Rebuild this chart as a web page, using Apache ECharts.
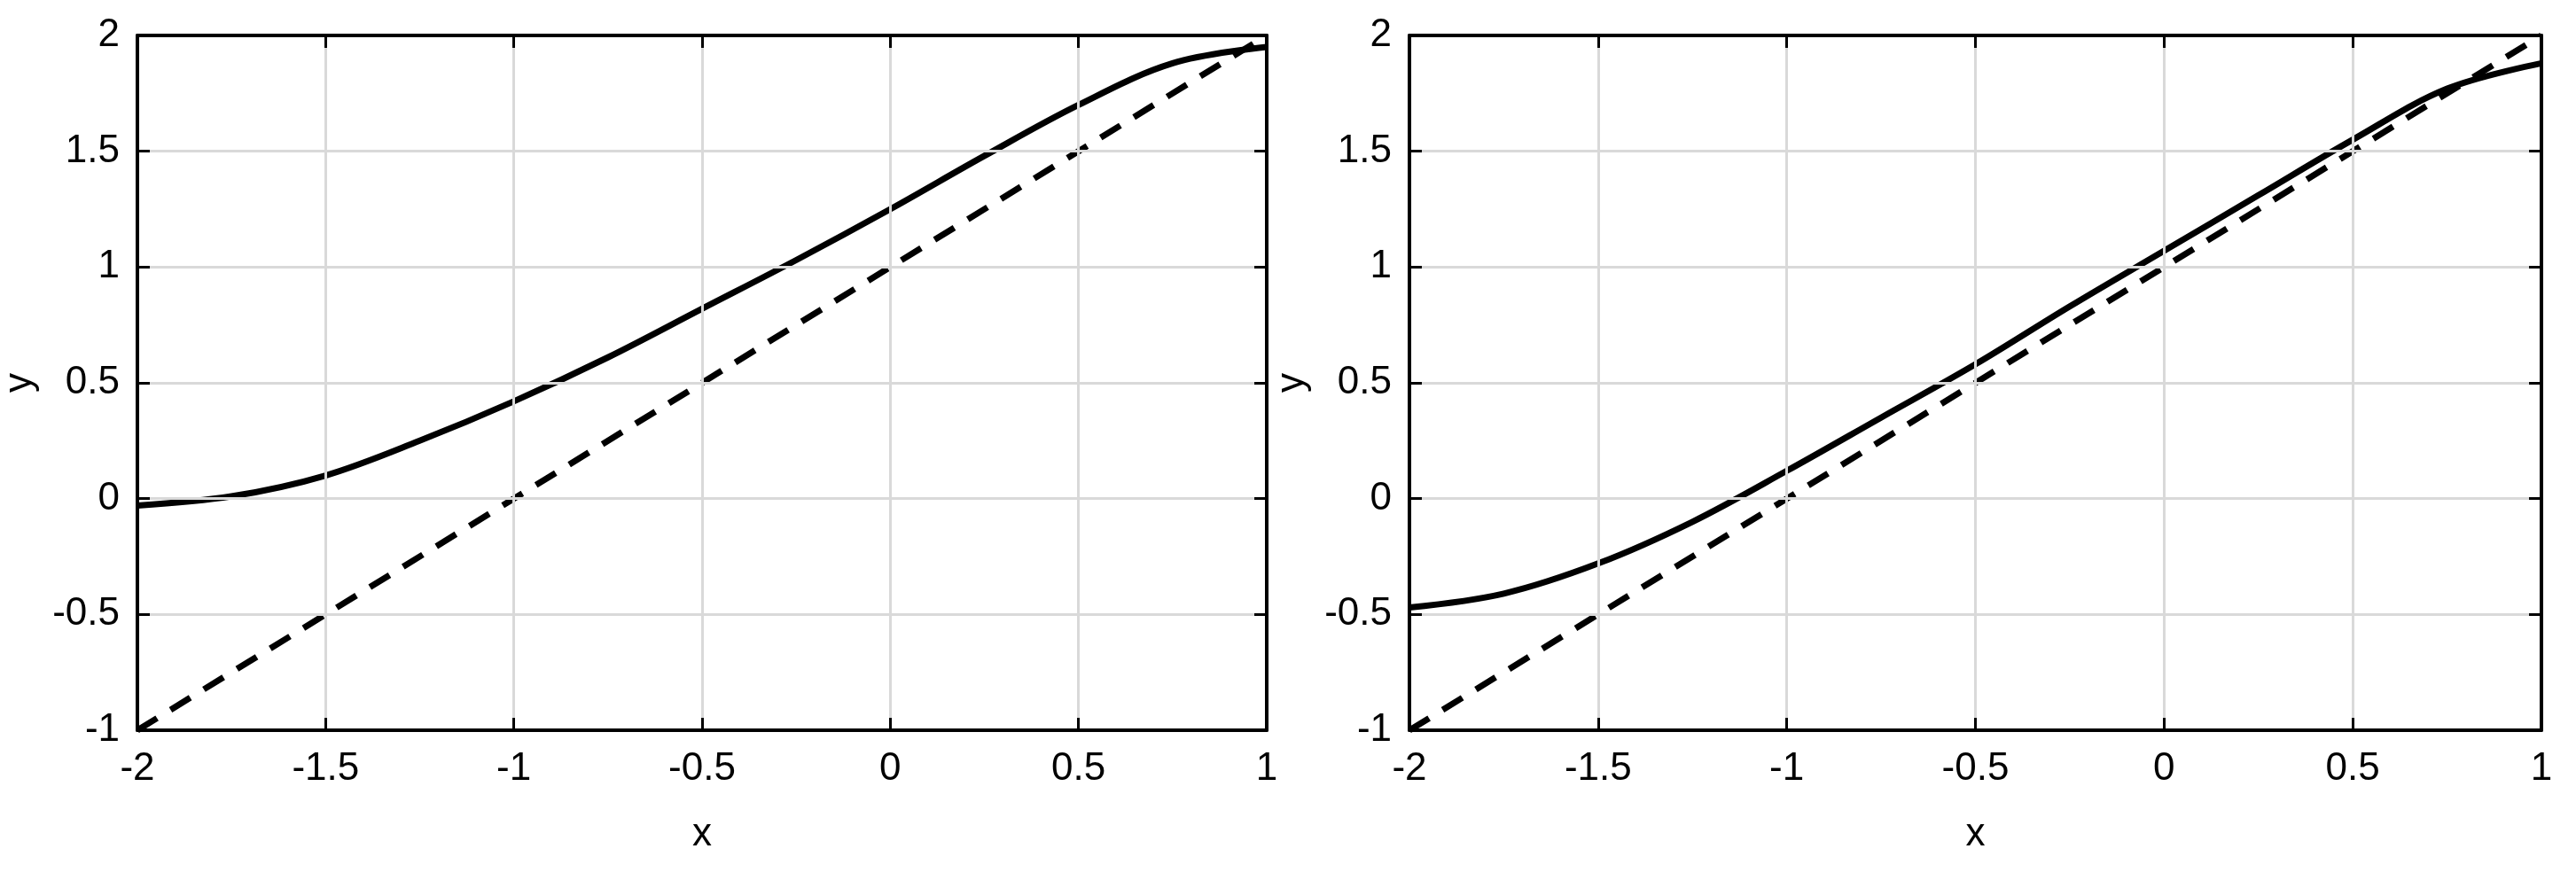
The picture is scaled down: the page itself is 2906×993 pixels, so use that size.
<!DOCTYPE html>
<html><head><meta charset="utf-8">
<script src="https://cdn.jsdelivr.net/npm/echarts@6/dist/echarts.min.js"></script>
<style>html,body{margin:0;padding:0;background:#fff}#c{width:2906px;height:993px}</style>
</head><body><div id="c"></div>
<script>
const xs = [-2,-1.75,-1.5,-1.25,-1,-0.75,-0.5,-0.25,0,0.25,0.5,0.75,1];
const leftCurve = [-0.03,0.01,0.10,0.25,0.42,0.61,0.82,1.03,1.25,1.48,1.70,1.88,1.95];
const rightCurve = [-0.47,-0.41,-0.28,-0.10,0.12,0.35,0.58,0.83,1.07,1.31,1.55,1.77,1.88];
const lineX = [-2,1];
const lineY = [-1,2];
const font = 'Liberation Sans';
const chart = echarts.init(document.getElementById('c'));
const tick = {inside:true,length:14,lineStyle:{color:'#000',width:3}};
const line = {onZero:false,lineStyle:{color:'#000',width:4}};
function xAxis(i){return {gridIndex:i,type:'value',min:-2,max:1,interval:0.5,name:'x',nameLocation:'middle',nameGap:96,
 nameTextStyle:{fontFamily:font,fontSize:44,color:'#000'},
 axisLine:line,axisTick:tick,z:5,
 axisLabel:{fontFamily:font,fontSize:44,color:'#000',margin:22},splitLine:{show:true,lineStyle:{color:'#d9d9d9',width:3}}};}
function xTop(i){return {gridIndex:i,type:'value',min:-2,max:1,interval:0.5,position:'top',axisLine:line,axisTick:tick,axisLabel:{show:false},splitLine:{show:false},z:5};}
function yAxis(i){return {gridIndex:i,type:'value',min:-1,max:2,interval:0.5,name:'y',nameLocation:'middle',nameGap:110,
 nameTextStyle:{fontFamily:font,fontSize:44,color:'#000'},
 axisLine:line,axisTick:tick,z:5,
 axisLabel:{fontFamily:font,fontSize:44,color:'#000',margin:20},splitLine:{show:true,lineStyle:{color:'#d9d9d9',width:3}}};}
function yRight(i){return {gridIndex:i,type:'value',min:-1,max:2,interval:0.5,position:'right',axisLine:line,axisTick:tick,axisLabel:{show:false},splitLine:{show:false},z:5};}
const solid = (d,i)=>({type:'line',xAxisIndex:i,yAxisIndex:i,smooth:0.35,symbol:'none',data:xs.map((x,k)=>[x,d[k]]),lineStyle:{color:'#000',width:7},z:3});
const dashed = i=>({type:'line',xAxisIndex:i,yAxisIndex:i,symbol:'none',data:lineX.map((x,k)=>[x,lineY[k]]),lineStyle:{color:'#000',width:7,type:[26,18]},z:4});
chart.setOption({
 animation:false,
 grid:[{left:152,top:40,width:1277,height:784},{left:1590,top:40,width:1277,height:784}],
 xAxis:[xAxis(0),xAxis(1),xTop(0),xTop(1)],
 yAxis:[yAxis(0),yAxis(1),yRight(0),yRight(1)],
 series:[solid(leftCurve,0),dashed(0),solid(rightCurve,1),dashed(1)]
});
</script></body></html>
